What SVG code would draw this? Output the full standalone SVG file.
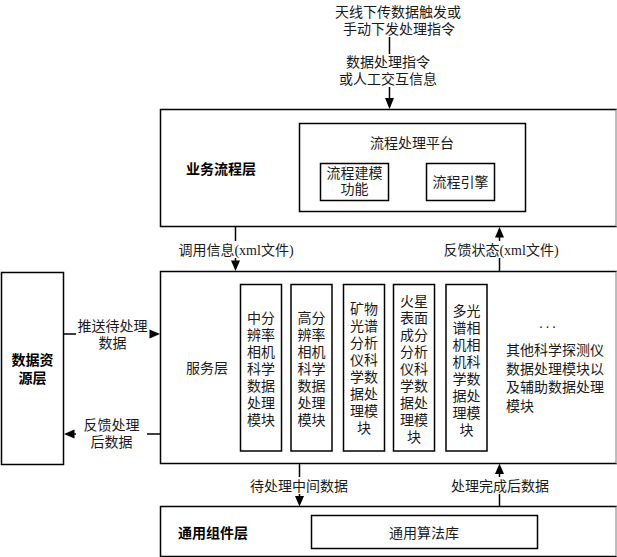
<svg xmlns="http://www.w3.org/2000/svg" width="617" height="557" viewBox="0 0 617 557">
<defs>
<style>
text{font-family:"Liberation Serif","Noto Sans CJK SC",serif;font-size:14px;fill:#1a1a1a}
.b{font-family:"Liberation Sans","Noto Sans CJK SC",sans-serif;font-weight:bold;fill:#000}
.m{text-anchor:middle}
.box{fill:#fff;stroke:#000;stroke-width:1.5}
.edge{stroke:#bbb;stroke-width:1.5}
.ln{stroke:#000;stroke-width:1.5;fill:none}
.ah{fill:#000}
</style>
</defs>
<rect width="617" height="557" fill="#fff"/>

<g id="layer-business">
<rect class="box" x="160.5" y="109.5" width="456" height="117"/>
<line class="edge" x1="616.5" y1="109.5" x2="616.5" y2="226.5"/>
<text class="b" x="186" y="174">业务流程层</text>
</g>
<g id="platform">
<rect class="box" x="299.5" y="123.5" width="226" height="88"/>
<text class="m" x="412" y="148">流程处理平台</text>
</g>
<g id="modeling">
<rect class="box" x="320.5" y="163.5" width="68" height="37"/>
<text class="m" x="354.5" y="178"><tspan x="354.5">流程建模</tspan><tspan x="354.5" dy="16">功能</tspan></text>
</g>
<g id="engine">
<rect class="box" x="426.5" y="163.5" width="68" height="37"/>
<text class="m" x="460.5" y="187">流程引擎</text>
</g>

<g id="layer-service">
<rect class="box" x="160.5" y="271.5" width="456" height="192"/>
<line class="edge" x1="616.5" y1="271.5" x2="616.5" y2="463.5"/>
<text x="186" y="373">服务层</text>
</g>
<g id="mod1">
<rect class="box" x="240.5" y="284.5" width="41" height="166.5"/>
<text class="m" y="322.5"><tspan x="261">中分</tspan><tspan x="261" dy="17">辨率</tspan><tspan x="261" dy="17">相机</tspan><tspan x="261" dy="17">科学</tspan><tspan x="261" dy="17">数据</tspan><tspan x="261" dy="17">处理</tspan><tspan x="261" dy="17">模块</tspan></text>
</g>
<g id="mod2">
<rect class="box" x="291" y="284.5" width="41" height="166.5"/>
<text class="m" y="322.5"><tspan x="311.5">高分</tspan><tspan x="311.5" dy="17">辨率</tspan><tspan x="311.5" dy="17">相机</tspan><tspan x="311.5" dy="17">科学</tspan><tspan x="311.5" dy="17">数据</tspan><tspan x="311.5" dy="17">处理</tspan><tspan x="311.5" dy="17">模块</tspan></text>
</g>
<g id="mod3">
<rect class="box" x="343.5" y="284.5" width="41" height="166.5"/>
<text class="m" y="314"><tspan x="364">矿物</tspan><tspan x="364" dy="17">光谱</tspan><tspan x="364" dy="17">分析</tspan><tspan x="364" dy="17">仪科</tspan><tspan x="364" dy="17">学数</tspan><tspan x="364" dy="17">据处</tspan><tspan x="364" dy="17">理模</tspan><tspan x="364" dy="17">块</tspan></text>
</g>
<g id="mod4">
<rect class="box" x="393.5" y="284.5" width="41" height="166.5"/>
<text class="m" y="306"><tspan x="414">火星</tspan><tspan x="414" dy="17">表面</tspan><tspan x="414" dy="17">成分</tspan><tspan x="414" dy="17">分析</tspan><tspan x="414" dy="17">仪科</tspan><tspan x="414" dy="17">学数</tspan><tspan x="414" dy="17">据处</tspan><tspan x="414" dy="17">理模</tspan><tspan x="414" dy="17">块</tspan></text>
</g>
<g id="mod5">
<rect class="box" x="446" y="284.5" width="41" height="166.5"/>
<text class="m" y="316"><tspan x="466.5">多光</tspan><tspan x="466.5" dy="17">谱相</tspan><tspan x="466.5" dy="17">机相</tspan><tspan x="466.5" dy="17">机科</tspan><tspan x="466.5" dy="17">学数</tspan><tspan x="466.5" dy="17">据处</tspan><tspan x="466.5" dy="17">理模</tspan><tspan x="466.5" dy="17">块</tspan></text>
</g>
<g id="others">
<text class="m" x="549" y="328" style="letter-spacing:3px">...</text>
<text y="355"><tspan x="506">其他科学探测仪</tspan><tspan x="506" dy="18.5">数据处理模块以</tspan><tspan x="506" dy="18.5">及辅助数据处理</tspan><tspan x="506" dy="18.5">模块</tspan></text>
</g>

<g id="layer-data">
<rect class="box" x="1.5" y="272.5" width="62" height="192"/>
<text class="b m" y="365"><tspan x="32.5">数据资</tspan><tspan x="32.5" dy="18">源层</tspan></text>
</g>

<g id="layer-common">
<rect class="box" x="160.5" y="506.5" width="456" height="50"/>
<line class="edge" x1="616.5" y1="506.5" x2="616.5" y2="556.5"/>
<text class="b" x="178" y="538">通用组件层</text>
</g>
<g id="algo-lib">
<rect class="box" x="311.5" y="515.5" width="226" height="33"/>
<text class="m" x="424" y="538">通用算法库</text>
</g>

<g id="top-input">
<text class="m" y="17"><tspan x="398">天线下传数据触发或</tspan><tspan x="399" dy="16.5">手动下发处理指令</tspan></text>
</g>

<g id="connectors">
<line class="ln" x1="389.5" y1="37" x2="389.5" y2="54"/>
<line class="ln" x1="389.5" y1="87" x2="389.5" y2="100"/>
<polygon class="ah" points="385,98 394,98 389.5,109"/>
<text class="m" y="67"><tspan x="388">数据处理指令</tspan><tspan x="388" dy="16.5">或人工交互信息</tspan></text>

<line class="ln" x1="235.5" y1="226.5" x2="235.5" y2="241"/>
<line class="ln" x1="235.5" y1="258" x2="235.5" y2="262"/>
<polygon class="ah" points="231,260.5 240,260.5 235.5,271"/>
<text class="m" x="236" y="255">调用信息(xml文件)</text>

<line class="ln" x1="499.5" y1="271.5" x2="499.5" y2="258"/>
<line class="ln" x1="499.5" y1="241" x2="499.5" y2="236"/>
<polygon class="ah" points="495,237.5 504,237.5 499.5,227"/>
<text class="m" x="501" y="255">反馈状态(xml文件)</text>

<line class="ln" x1="63.5" y1="334" x2="76" y2="334"/>
<polygon class="ah" points="149.5,329.5 149.5,338.5 160,334"/>
<text class="m" y="331"><tspan x="112.5">推送待处理</tspan><tspan x="112.5" dy="17">数据</tspan></text>

<line class="ln" x1="160" y1="434" x2="147" y2="434"/>
<line class="ln" x1="76" y1="434" x2="72" y2="434"/>
<polygon class="ah" points="74.5,429.5 74.5,438.5 64,434"/>
<text class="m" y="430"><tspan x="111.5">反馈处理</tspan><tspan x="111.5" dy="17">后数据</tspan></text>

<line class="ln" x1="299.5" y1="463.5" x2="299.5" y2="477"/>
<line class="ln" x1="299.5" y1="494" x2="299.5" y2="498"/>
<polygon class="ah" points="295,496 304,496 299.5,506.5"/>
<text class="m" x="299" y="491">待处理中间数据</text>

<line class="ln" x1="499.5" y1="506.5" x2="499.5" y2="494"/>
<line class="ln" x1="499.5" y1="477" x2="499.5" y2="473"/>
<polygon class="ah" points="495,474 504,474 499.5,463.5"/>
<text class="m" x="500" y="491">处理完成后数据</text>
</g>
</svg>
